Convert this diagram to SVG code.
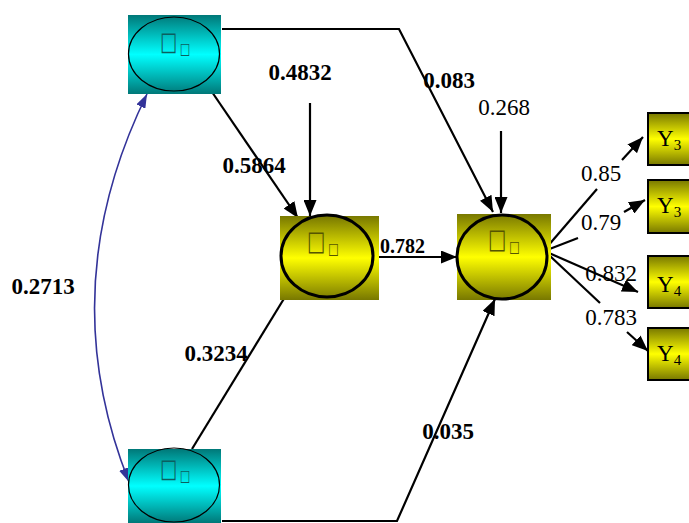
<svg xmlns="http://www.w3.org/2000/svg" width="689" height="523" viewBox="0 0 689 523">
<defs>
<linearGradient id="gc" x1="0" y1="0" x2="0" y2="1">
<stop offset="0" stop-color="#007878"/><stop offset="0.5" stop-color="#00ffff"/><stop offset="1" stop-color="#007878"/>
</linearGradient>
<linearGradient id="gy" x1="0" y1="0" x2="0" y2="1">
<stop offset="0" stop-color="#787800"/><stop offset="0.5" stop-color="#ffff00"/><stop offset="1" stop-color="#787800"/>
</linearGradient>
<marker id="ah" viewBox="0 0 16 13" refX="16" refY="6.5" markerWidth="16" markerHeight="13" markerUnits="userSpaceOnUse" orient="auto">
<path d="M0,0 L16,6.5 L0,13 z" fill="#000"/>
</marker>
<marker id="bh" viewBox="0 0 14 10" refX="14" refY="5" markerWidth="14" markerHeight="10" markerUnits="userSpaceOnUse" orient="auto-start-reverse">
<path d="M0,0 L14,5 L0,10 z" fill="#333399"/>
</marker>
</defs>
<style>
.ln{stroke:#000;stroke-width:2.2;fill:none}
.ar{marker-end:url(#ah)}
.lb{font-family:"Liberation Serif","Times New Roman",serif;font-size:23px;fill:#000}
.bd{font-family:"Liberation Serif","Times New Roman",serif;font-size:23px;font-weight:bold;fill:#000}
.tc{font-family:"DejaVu Sans",sans-serif;fill:#0b5f5f}
.ty{font-family:"DejaVu Sans",sans-serif;fill:#555500}
.ybox{fill:url(#gy);stroke:#000;stroke-width:2}
.yt{font-family:"Liberation Serif","Times New Roman",serif;font-size:23px;fill:#000}
</style>
<rect width="689" height="523" fill="#fff"/>
<g id="connectors">
<polyline class="ln ar" points="222,29 399,29 493,212"/>
<line class="ln ar" x1="212" y1="92" x2="298" y2="218"/>
<line class="ln ar" x1="310" y1="103" x2="310" y2="216"/>
<line class="ln ar" x1="501" y1="131" x2="501" y2="213"/>
<line class="ln ar" x1="378" y1="257" x2="457" y2="257"/>
<line class="ln" x1="192" y1="449" x2="285" y2="297"/>
<polyline class="ln ar" points="222,521 397,521 495,299"/>
<path d="M147,94 Q52,288 129,482" fill="none" stroke="#333399" stroke-width="1.6" marker-start="url(#bh)" marker-end="url(#bh)"/>
<line class="ln" x1="547" y1="247" x2="597" y2="189"/>
<line class="ln ar" x1="622" y1="160" x2="643" y2="137"/>
<line class="ln" x1="547" y1="250" x2="578" y2="238"/>
<line class="ln ar" x1="624" y1="212" x2="645" y2="200"/>
<line class="ln ar" x1="549" y1="253" x2="638" y2="292"/>
<line class="ln" x1="550" y1="256" x2="600" y2="303"/>
<line class="ln ar" x1="627" y1="332" x2="648" y2="351"/>
</g>
<g id="labels">
<text class="bd" x="300" y="80" text-anchor="middle">0.4832</text>
<text class="bd" x="449" y="88" text-anchor="middle">0.083</text>
<text class="bd" x="254" y="173" text-anchor="middle">0.5864</text>
<text class="bd" x="216" y="361" text-anchor="middle">0.3234</text>
<text class="bd" x="43" y="294" text-anchor="middle">0.2713</text>
<text class="bd" x="380" y="253" style="font-size:20px">0.782</text>
<text class="bd" x="448" y="439" text-anchor="middle">0.035</text>
<text class="lb" x="504" y="115" text-anchor="middle">0.268</text>
<text class="lb" x="601" y="181" text-anchor="middle">0.85</text>
<text class="lb" x="601" y="230" text-anchor="middle">0.79</text>
<text class="lb" x="611" y="281" text-anchor="middle">0.832</text>
<text class="lb" x="611" y="325" text-anchor="middle">0.783</text>
</g>
<g id="xi1">
<rect x="128" y="15" width="93" height="79" fill="url(#gc)"/>
<ellipse cx="174" cy="54" rx="45.5" ry="37" fill="none" stroke="#000" stroke-width="1.2"/>
<text class="tc" transform="translate(160,50) scale(0.7,1)" font-size="26">□<tspan font-size="16" dx="4" dy="4">□</tspan></text>
</g>
<g id="xi2">
<rect x="128" y="449" width="93" height="74" fill="url(#gc)"/>
<ellipse cx="174" cy="485" rx="45.5" ry="37" fill="none" stroke="#000" stroke-width="1.2"/>
<text class="tc" transform="translate(160,477) scale(0.7,1)" font-size="26">□<tspan font-size="16" dx="4" dy="4">□</tspan></text>
</g>
<g id="eta1">
<rect x="280" y="216" width="99" height="84" fill="url(#gy)"/>
<ellipse cx="327" cy="256" rx="46" ry="41" fill="none" stroke="#000" stroke-width="3"/>
<text class="ty" transform="translate(307,250) scale(0.72,1)" font-size="27">□<tspan font-size="16" dx="4" dy="4">□</tspan></text>
</g>
<g id="eta2">
<rect x="457" y="214" width="94" height="86" fill="url(#gy)"/>
<ellipse cx="502" cy="257" rx="45" ry="42" fill="none" stroke="#000" stroke-width="3"/>
<text class="ty" transform="translate(488,248) scale(0.72,1)" font-size="27">□<tspan font-size="16" dx="4" dy="4">□</tspan></text>
</g>
<g id="y1">
<rect class="ybox" x="648" y="113" width="50" height="52"/>
<text class="yt" x="657" y="146">Y<tspan font-size="15" dy="4">3</tspan></text>
</g>
<g id="y2">
<rect class="ybox" x="648" y="180" width="50" height="53"/>
<text class="yt" x="657" y="213">Y<tspan font-size="15" dy="4">3</tspan></text>
</g>
<g id="y3">
<rect class="ybox" x="648" y="256" width="50" height="52"/>
<text class="yt" x="657" y="292">Y<tspan font-size="15" dy="4">4</tspan></text>
</g>
<g id="y4">
<rect class="ybox" x="648" y="328" width="50" height="52"/>
<text class="yt" x="657" y="361">Y<tspan font-size="15" dy="4">4</tspan></text>
</g>
</svg>
